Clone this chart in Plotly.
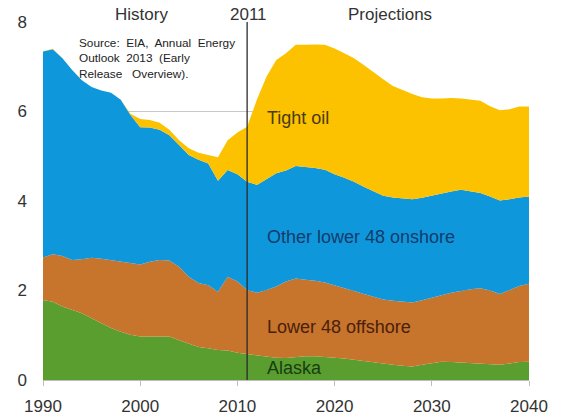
import plotly.graph_objects as go

years = list(range(1990, 2041))

# million barrels per day
alaska = [1.79, 1.75, 1.64, 1.56, 1.49, 1.38, 1.27, 1.16, 1.08, 1.01,
          0.97, 0.97, 0.98, 0.97, 0.89, 0.82, 0.74, 0.71, 0.67, 0.66,
          0.61, 0.58, 0.55, 0.52, 0.50, 0.49, 0.51, 0.53, 0.53, 0.52,
          0.50, 0.48, 0.45, 0.42, 0.39, 0.37, 0.34, 0.32, 0.30, 0.34,
          0.38, 0.41, 0.40, 0.39, 0.37, 0.37, 0.35, 0.34, 0.37, 0.40,
          0.41]
offshore = [0.95, 1.06, 1.13, 1.12, 1.21, 1.35, 1.44, 1.52, 1.56, 1.61,
            1.61, 1.67, 1.70, 1.70, 1.64, 1.49, 1.43, 1.41, 1.30, 1.65,
            1.59, 1.43, 1.40, 1.49, 1.59, 1.71, 1.76, 1.71, 1.69, 1.66,
            1.62, 1.57, 1.54, 1.50, 1.47, 1.43, 1.43, 1.43, 1.43, 1.44,
            1.46, 1.49, 1.55, 1.60, 1.66, 1.68, 1.65, 1.58, 1.64, 1.70,
            1.74]
onshore = [4.60, 4.58, 4.42, 4.25, 4.00, 3.82, 3.76, 3.74, 3.62, 3.30,
           3.07, 3.00, 2.91, 2.80, 2.72, 2.72, 2.75, 2.72, 2.48, 2.38,
           2.40, 2.42, 2.41, 2.49, 2.53, 2.48, 2.51, 2.52, 2.52, 2.52,
           2.48, 2.47, 2.44, 2.40, 2.36, 2.32, 2.31, 2.31, 2.31, 2.29,
           2.28, 2.27, 2.26, 2.26, 2.19, 2.13, 2.10, 2.09, 2.03, 1.98,
           1.95]
tight_oil = [0.00, 0.01, 0.00, 0.00, 0.00, 0.00, 0.00, 0.00, 0.00, 0.03,
             0.18, 0.17, 0.16, 0.12, 0.11, 0.15, 0.16, 0.19, 0.53, 0.67,
             0.93, 1.23, 1.90, 2.28, 2.53, 2.62, 2.71, 2.73, 2.76, 2.79,
             2.81, 2.78, 2.76, 2.72, 2.65, 2.60, 2.49, 2.42, 2.35, 2.25,
             2.17, 2.12, 2.09, 2.04, 2.05, 2.06, 2.02, 2.02, 2.01, 2.03,
             2.01]

x_ticks = [1990, 2000, 2010, 2020, 2030, 2040]
y_ticks = [0, 2, 4, 6, 8]

colors = {
    'alaska': '#5b9e30',
    'offshore': '#c7742d',
    'onshore': '#0f97db',
    'tight': '#fcc200',
    'text': '#333333',
    'grid': '#c8c8c8',
}
font_family = "Liberation Sans, Arial, sans-serif"

series = [
    ('Alaska', alaska, colors['alaska']),
    ('Lower 48 offshore', offshore, colors['offshore']),
    ('Other lower 48 onshore', onshore, colors['onshore']),
    ('Tight oil', tight_oil, colors['tight']),
]

fig = go.Figure()
for name, vals, col in series:
    fig.add_trace(go.Scatter(
        x=years, y=vals, name=name,
        mode='lines', stackgroup='one',
        line=dict(width=0, color=col),
        fillcolor=col,
        hoverinfo='skip',
    ))

# 2011 divider
fig.add_shape(type='line', xref='x', yref='y', x0=2011, x1=2011, y0=0, y1=8,
              line=dict(color='#2a2a2a', width=1.3), layer='above')

# headers above the plot
for txt, xv in [('History', 2000.1), ('2011', 2011.1), ('Projections', 2025.7)]:
    fig.add_annotation(text=txt, x=xv, xref='x', y=1, yref='paper',
                       yanchor='middle', yshift=8, showarrow=False,
                       font=dict(size=17, color=colors['text']))

# source note (spread out a bit like the justified original)
fig.add_annotation(
    text=("Source:&nbsp; EIA,&nbsp; Annual&nbsp; Energy<br>"
          "Outlook&nbsp; 2013&nbsp; (Early<br>"
          "Release&nbsp;&nbsp; Overview)."),
    x=1993.45, xref='x', y=7.74, yref='y', xanchor='left', yanchor='top',
    align='left', showarrow=False,
    font=dict(size=11.8, color='#222222'),
)

# in-area labels
labels = [
    ('Tight oil', 5.86, '#4a3a10'),
    ('Other lower 48 onshore', 3.19, '#123c6b'),
    ('Lower 48 offshore', 1.18, '#4a200a'),
    ('Alaska', 0.26, '#173d10'),
]
for txt, yv, col in labels:
    fig.add_annotation(text=txt, x=2012.8, xref='x', y=yv, yref='y',
                       xanchor='left', yanchor='middle', showarrow=False,
                       font=dict(size=18, color=col))

fig.update_layout(
    width=565, height=415,
    margin=dict(l=43, r=36, t=22, b=35),
    plot_bgcolor='white', paper_bgcolor='white',
    font=dict(family=font_family, color=colors['text']),
    showlegend=False,
)
fig.update_xaxes(
    range=[1990, 2040], tickvals=x_ticks, automargin=False,
    showgrid=False, zeroline=False,
    showline=True, linecolor='#bdbdbd', linewidth=1,
    ticks='outside', ticklen=5, tickcolor='#bdbdbd',
    ticklabelstandoff=6,
    tickfont=dict(size=17, color=colors['text']),
)
fig.update_yaxes(
    range=[0, 8], tickvals=y_ticks, automargin=False,
    showgrid=True, gridcolor=colors['grid'], gridwidth=1,
    zeroline=False, showline=False, ticks='',
    ticklabelstandoff=15,
    tickfont=dict(size=17, color=colors['text']),
)

# drop the default 8px body margin so the figure fills the window exactly
fig.write_html("out.html", config={'displayModeBar': False},
               post_script="document.body.style.margin='0px';")
